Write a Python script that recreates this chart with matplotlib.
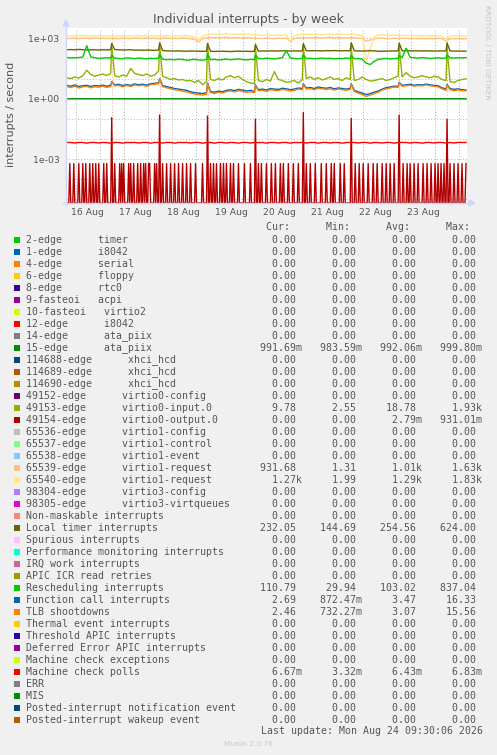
import numpy as np
import matplotlib
matplotlib.use('Agg')
import matplotlib.pyplot as plt
from matplotlib.lines import Line2D
from matplotlib.patches import Rectangle, Polygon
from matplotlib.ticker import FixedLocator, FixedFormatter, NullFormatter

W, H = 497, 755

# ------------------------------------------------------------------ data
# time axis: hours since 16 Aug 00:00
day_labels = ['16 Aug', '17 Aug', '18 Aug', '19 Aug', '20 Aug', '21 Aug', '22 Aug', '23 Aug']
day_label_hours = [12, 36, 60, 84, 108, 132, 156, 180]
midnight_hours = [24, 48, 72, 96, 120, 144, 168, 192]
grid_hours = np.arange(1.5, 202, 2.0)          # 2-hour samples (101)
spike_hours = [24, 48, 72, 96, 120, 144, 168, 192]

virtio1_req_65540 = [
    1350, 1300, 1420, 1280, 1380, 1330, 1250, 1400, 1320, 1360, 1290, 1340,
    1300, 1250, 1380, 1330, 1270, 1400, 1350, 1290, 1420, 1310, 1360, 1280,
    1320, 1380, 1300, 1350, 1280, 1400, 1340, 1260, 1150, 750, 1300, 1550,
    1600, 1650, 1580, 1620, 1700, 1560, 1640, 1600, 1550, 1620, 1580, 1500,
    1450, 1400, 1480, 1420, 1380, 1450, 1400, 1500, 700, 1350, 1500, 1550,
    1600, 1550, 1620, 1580, 1520, 1600, 1650, 1560, 1620, 1580, 1540, 1600,
    1550, 1500, 1400, 80, 300, 1200, 1450, 1500, 1420, 1380, 1450, 1400,
    1350, 1400, 1320, 1380, 1300, 1350, 1280, 1340, 1300, 1360, 1320, 750,
    1350, 1300, 1380, 1320, 1270]

virtio1_req_65539 = [
    1000, 980, 1050, 960, 1020, 1000, 940, 1060, 990, 1030, 970, 1010,
    990, 950, 1040, 1000, 960, 1060, 1010, 970, 1080, 990, 1020, 960,
    1000, 1050, 980, 1020, 960, 1060, 1000, 950, 880, 650, 980, 1050,
    1080, 1100, 1050, 1070, 1120, 1040, 1090, 1060, 1030, 1080, 1050, 1000,
    1000, 980, 1040, 990, 960, 1020, 980, 1050, 680, 970, 1040, 1060,
    1080, 1040, 1100, 1060, 1020, 1080, 1110, 1050, 1090, 1060, 1030, 1070,
    1050, 1020, 980, 700, 820, 950, 1000, 1030, 980, 960, 1010, 990,
    980, 1010, 960, 1000, 950, 990, 940, 980, 960, 1000, 970, 700,
    960, 940, 980, 950, 932]

local_timer = [
    270, 275, 268, 280, 272, 265, 270, 268, 262, 270, 266, 272,
    275, 268, 262, 266, 270, 258, 262, 255, 260, 258, 252, 262,
    245, 240, 235, 232, 238, 230, 228, 235, 232, 228, 226, 230,
    226, 222, 228, 230, 224, 220, 226, 232, 225, 228, 222, 226,
    230, 235, 232, 238, 236, 234, 240, 236, 232, 238, 234, 236,
    238, 242, 245, 240, 236, 244, 240, 246, 242, 238, 244, 240,
    240, 236, 232, 238, 242, 236, 230, 226, 232, 236, 234, 238,
    240, 244, 238, 236, 240, 234, 238, 236, 232, 236, 234, 238,
    236, 232, 234, 230, 232]
local_timer_spikes = [560, 600, 560, 500, 540, 600, 580, 590]

rescheduling = [
    112, 105, 108, 110, 118, 430, 120, 108, 100, 104, 110, 106,
    104, 100, 96, 108, 102, 98, 105, 100, 95, 102, 98, 104,
    92, 86, 90, 84, 92, 88, 82, 86, 90, 84, 82, 88,
    86, 90, 84, 88, 92, 86, 90, 95, 88, 84, 90, 87,
    100, 96, 104, 98, 94, 102, 110, 240, 105, 100, 96, 102,
    98, 102, 96, 100, 104, 98, 102, 96, 100, 98, 104, 100,
    96, 100, 92, 58, 50, 72, 90, 96, 100, 94, 98, 102,
    110, 320, 115, 108, 104, 110, 106, 100, 104, 108, 102, 106,
    108, 104, 110, 106, 110]
rescheduling_spikes = [140, 160, 170, 150, 150, 140, 140, 150]

virtio0_input = [
    11, 10, 12, 10.5, 14, 26, 16, 13, 15, 17, 14, 18,
    14, 12, 15, 13, 32, 18, 16, 14, 17, 13, 15, 24,
    13, 11, 9, 10, 8.5, 9, 7.6, 8, 6.5, 8, 5, 7,
    9, 8, 10, 8.5, 12, 14, 11, 13, 9, 7, 6, 5.5,
    8, 7, 9, 7.5, 22, 9, 8, 6.5, 7, 8, 6, 9,
    10, 12, 9, 11, 8.5, 10, 12, 9, 10, 8, 11, 9,
    8, 9, 12, 9, 7.5, 8, 9, 10, 8, 9, 11, 13,
    12, 20, 13, 11, 12, 14, 12, 11, 13, 12, 9, 8,
    7, 6.5, 8, 9, 9.8]
virtio0_input_spikes = [450, 480, 420, 400, 450, 380, 420, 400]

function_call = [
    4.5, 4.2, 4.8, 4.0, 4.4, 4.6, 4.1, 4.5, 4.3, 4.7, 4.2, 4.6,
    4.8, 5.2, 4.5, 5.0, 4.6, 5.4, 4.9, 5.3, 4.7, 5.5, 5.8, 6.2,
    4.5, 4.0, 3.6, 3.2, 3.0, 2.8, 2.6, 2.2, 2.0, 1.9, 1.8, 2.0,
    2.3, 2.1, 2.4, 2.2, 2.6, 2.8, 2.5, 2.9, 2.7, 2.4, 2.6, 2.3,
    2.8, 3.0, 2.7, 3.2, 3.0, 2.9, 3.3, 3.1, 2.8, 3.0, 3.4, 3.2,
    3.4, 3.6, 3.2, 3.8, 3.5, 3.3, 3.6, 3.1, 3.4, 3.2, 3.0, 3.3,
    2.6, 2.2, 1.9, 1.6, 1.8, 2.1, 2.4, 3.0, 3.5, 3.8, 4.2, 4.0,
    4.6, 4.9, 5.2, 4.7, 5.0, 4.8, 5.3, 4.9, 4.6, 4.4, 3.5, 3.0,
    3.2, 2.9, 3.1, 2.8, 2.69]
function_call_spikes = [7, 10, 6, 4.8, 5.5, 5.5, 6.5, 5]

tlb_shootdowns = [
    4.0, 3.6, 4.2, 3.4, 3.9, 4.1, 3.5, 3.9, 3.7, 4.2, 3.6, 4.0,
    4.3, 4.6, 3.9, 4.5, 4.0, 4.8, 4.4, 4.7, 4.1, 5.0, 5.2, 5.6,
    4.0, 3.5, 3.1, 2.8, 2.6, 2.4, 2.2, 1.9, 1.7, 1.6, 1.5, 1.7,
    2.0, 1.8, 2.1, 1.9, 2.3, 2.4, 2.2, 2.5, 2.3, 2.1, 2.2, 2.0,
    2.5, 2.6, 2.3, 2.8, 2.6, 2.5, 2.9, 2.7, 2.4, 2.6, 3.0, 2.8,
    3.0, 3.2, 2.8, 3.3, 3.1, 2.9, 3.1, 2.7, 3.0, 2.8, 2.6, 2.9,
    2.3, 1.9, 1.6, 1.3, 1.5, 1.8, 2.1, 2.7, 3.1, 3.4, 3.8, 3.6,
    4.1, 4.4, 4.7, 4.2, 4.5, 4.3, 4.8, 4.4, 4.1, 3.9, 3.1, 2.6,
    2.8, 2.5, 2.7, 2.5, 2.46]
tlb_shootdowns_spikes = [6.5, 9.5, 5.5, 4.4, 5.0, 5.0, 6.0, 4.6]

mce_polls_milli = [
    6.7, 6.7, 6.3, 6.7, 6.7, 6.2, 6.7, 6.7, 6.3, 6.7, 6.6, 6.2,
    6.7, 6.7, 6.2, 6.7, 6.6, 6.7, 6.3, 6.7, 6.7, 6.2, 6.7, 6.7,
    6.3, 6.7, 6.7, 6.2, 6.7, 6.6, 6.7, 6.3, 6.7, 6.7, 6.2, 6.7,
    6.7, 6.2, 6.7, 6.7, 6.3, 6.7, 6.6, 6.2, 6.7, 6.7, 6.3, 6.7,
    6.6, 6.7, 6.2, 6.7, 6.7, 6.3, 6.7, 6.7, 6.2, 6.7, 6.6, 6.7,
    6.3, 6.7, 6.7, 6.2, 6.7, 6.7, 6.3, 6.7, 6.6, 6.2, 6.7, 6.7,
    6.7, 6.3, 6.7, 6.7, 6.2, 6.7, 6.6, 6.3, 6.7, 6.7, 6.2, 6.7,
    6.7, 6.7, 6.3, 6.7, 6.6, 6.2, 6.7, 6.7, 6.3, 6.7, 6.7, 6.2,
    6.7, 6.3, 6.7, 6.7, 6.67]

ata15_hours = [1.5, 60, 120, 201.5]
ata15 = [0.992, 0.991, 0.992, 0.9917]

# virtio0-output: half-hourly samples, zero except these pulses
virtio0_out_pulse_hours = [
    3.0, 5.0, 7.5, 9.5, 11.0, 13.0, 14.5, 16.0, 17.5, 20.0, 21.5,
    25.5, 28.0, 29.0, 30.0, 32.5, 33.5, 35.0, 37.0, 38.5, 40.0, 41.0, 42.5, 43.0, 45.5, 46.5,
    49.5, 51.5, 53.5, 55.5, 57.5, 59.5, 61.5, 63.5, 66.0, 69.5,
    73.5, 75.0, 76.5, 78.5, 80.0, 81.5, 83.5, 85.0, 87.5, 90.5, 93.5,
    97.5, 99.0, 101.5, 104.0, 106.0, 108.5, 110.0, 112.5, 115.0, 117.5,
    121.5, 123.5, 126.0, 129.0, 131.5, 134.0, 135.5, 138.5, 140.5,
    146.0, 148.0, 150.0, 152.5, 155.0, 157.0, 159.5, 161.5, 163.5, 165.5,
    170.0, 172.0, 173.5, 175.5, 177.5, 180.0, 182.0, 184.0, 186.0, 187.5, 189.0, 190.5,
    193.5, 195.5, 197.5, 199.5, 201.5]
virtio0_out_pulse_level = 6.0e-4
virtio0_out_spikes = [0.114, 0.155, 0.138, 0.095, 0.21, 0.106, 0.155, 0.095]

# legend
legend_labels = [
    '2-edge      timer', '1-edge      i8042', '4-edge      serial', '6-edge      floppy',
    '8-edge      rtc0', '9-fasteoi   acpi', '10-fasteoi   virtio2', '12-edge      i8042',
    '14-edge      ata_piix', '15-edge      ata_piix', '114688-edge      xhci_hcd',
    '114689-edge      xhci_hcd', '114690-edge      xhci_hcd', '49152-edge      virtio0-config',
    '49153-edge      virtio0-input.0', '49154-edge      virtio0-output.0',
    '65536-edge      virtio1-config', '65537-edge      virtio1-control',
    '65538-edge      virtio1-event', '65539-edge      virtio1-request',
    '65540-edge      virtio1-request', '98304-edge      virtio3-config',
    '98305-edge      virtio3-virtqueues', 'Non-maskable interrupts', 'Local timer interrupts',
    'Spurious interrupts', 'Performance monitoring interrupts', 'IRQ work interrupts',
    'APIC ICR read retries', 'Rescheduling interrupts', 'Function call interrupts',
    'TLB shootdowns', 'Thermal event interrupts', 'Threshold APIC interrupts',
    'Deferred Error APIC interrupts', 'Machine check exceptions', 'Machine check polls',
    'ERR', 'MIS', 'Posted-interrupt notification event', 'Posted-interrupt wakeup event']
legend_colors = [
    '#00CC00', '#0066B3', '#FF8000', '#FFCC00', '#330099', '#990099', '#CCFF00', '#FF0000',
    '#808080', '#008F00', '#00487D', '#B35A00', '#B38F00', '#6B006B', '#8FB300', '#B30000',
    '#BEBEBE', '#80FF80', '#80C9FF', '#FFC080', '#FFE680', '#AA80FF', '#EE00CC', '#FF8080',
    '#666600', '#FFBFFF', '#00FFCC', '#CC6699', '#999900', '#00CC00', '#0066B3', '#FF8000',
    '#FFCC00', '#330099', '#990099', '#CCFF00', '#FF0000', '#808080', '#008F00', '#00487D',
    '#B35A00']
cur_vals = ['0.00'] * 9 + ['991.69m'] + ['0.00'] * 4 + ['9.78', '0.00'] + ['0.00'] * 3 + \
    ['931.68', '1.27k'] + ['0.00'] * 3 + ['232.05'] + ['0.00'] * 4 + ['110.79', '2.69', '2.46'] + \
    ['0.00'] * 4 + ['6.67m'] + ['0.00'] * 4
min_vals = ['0.00'] * 9 + ['983.59m'] + ['0.00'] * 4 + ['2.55', '0.00'] + ['0.00'] * 3 + \
    ['1.31', '1.99'] + ['0.00'] * 3 + ['144.69'] + ['0.00'] * 4 + ['29.94', '872.47m', '732.27m'] + \
    ['0.00'] * 4 + ['3.32m'] + ['0.00'] * 4
avg_vals = ['0.00'] * 9 + ['992.06m'] + ['0.00'] * 4 + ['18.78', '2.79m'] + ['0.00'] * 3 + \
    ['1.01k', '1.29k'] + ['0.00'] * 3 + ['254.56'] + ['0.00'] * 4 + ['103.02', '3.47', '3.07'] + \
    ['0.00'] * 4 + ['6.43m'] + ['0.00'] * 4
max_vals = ['0.00'] * 9 + ['999.80m'] + ['0.00'] * 4 + ['1.93k', '931.01m'] + ['0.00'] * 3 + \
    ['1.63k', '1.83k'] + ['0.00'] * 3 + ['624.00'] + ['0.00'] * 4 + ['837.04', '16.33', '15.56'] + \
    ['0.00'] * 4 + ['6.83m'] + ['0.00'] * 4

# ------------------------------------------------------------------ figure
fig = plt.figure(figsize=(W / 100, H / 100), dpi=100)
fig.patch.set_facecolor('#F0F0F0')

ax_l, ax_r, ax_t, ax_b = 66, 467, 27.7, 203
ax = fig.add_axes([ax_l / W, 1 - ax_b / H, (ax_r - ax_l) / W, (ax_b - ax_t) / H])
ax.set_facecolor('white')
ax.set_yscale('log')
YMIN, YMAX = 6.6e-6, 3365
ax.set_ylim(YMIN, YMAX)
ax.set_xlim(1.1, 202.0)
for s in ax.spines.values():
    s.set_visible(False)

GRID_C = '#B4B4B4'
MGRID_C = '#EE9A9A'
dots = (0, (1, 2))

# y grid
ax.yaxis.set_major_locator(FixedLocator([1e-3, 1, 1e3]))
ax.yaxis.set_major_formatter(FixedFormatter(['1e-03', '1e+00', '1e+03']))
ax.yaxis.set_minor_locator(FixedLocator([1e-5, 1e-4, 1e-2, 1e-1, 10, 100]))
ax.yaxis.set_minor_formatter(NullFormatter())
ax.grid(True, axis='y', which='minor', color=GRID_C, lw=0.7, linestyle=dots)
ax.grid(True, axis='y', which='major', color=MGRID_C, lw=0.7, linestyle=dots)

# x grid
ax.set_xticks(day_label_hours)
ax.set_xticklabels(day_labels)
ax.xaxis.set_minor_locator(FixedLocator([h for h in range(6, 202, 6) if h % 24]))
ax.grid(True, axis='x', which='minor', color=GRID_C, lw=0.7, linestyle=dots)
for h in midnight_hours:
    ax.axvline(h, color=MGRID_C, lw=0.7, linestyle=dots, zorder=0.5)
ax.set_axisbelow(True)

ax.tick_params(axis='both', which='both', length=0, labelsize=6.7, colors='#555555')
ax.tick_params(axis='y', pad=4.8)
ax.tick_params(axis='x', pad=3.6)


def merged(base, spikes):
    t = np.concatenate([grid_hours, np.asarray(spike_hours, float)])
    v = np.concatenate([np.asarray(base, float), np.asarray(spikes, float)])
    o = np.argsort(t, kind='stable')
    return t[o], v[o]


LW = 1.0
ax.plot(ata15_hours, ata15, color='#008F00', lw=LW)
t, v = merged(virtio0_input, virtio0_input_spikes)
ax.plot(t, v, color='#8FB300', lw=LW)

half_hours = np.arange(1.5, 202, 0.5)
out_vals = np.zeros_like(half_hours)
for h in virtio0_out_pulse_hours:
    out_vals[int(round((h - 1.5) * 2))] = virtio0_out_pulse_level
for h, sv in zip(spike_hours, virtio0_out_spikes):
    out_vals[int(round((h - 1.5) * 2))] = sv
ax.plot(half_hours, np.where(out_vals > 0, out_vals, YMIN), color='#B30000', lw=LW)

ax.plot(grid_hours, virtio1_req_65539, color='#FFC080', lw=LW)
ax.plot(grid_hours, virtio1_req_65540, color='#FFE680', lw=LW)
t, v = merged(local_timer, local_timer_spikes)
ax.plot(t, v, color='#666600', lw=LW)
t, v = merged(rescheduling, rescheduling_spikes)
ax.plot(t, v, color='#00CC00', lw=LW)
t, v = merged(function_call, function_call_spikes)
ax.plot(t, v, color='#0066B3', lw=LW)
t, v = merged(tlb_shootdowns, tlb_shootdowns_spikes)
ax.plot(t, v, color='#FF8000', lw=LW)
ax.plot(grid_hours, np.asarray(mce_polls_milli) * 1e-3, color='#FF0000', lw=LW)

# axis arrows
AX_C = '#CFD6F8'


def fx(x):
    return x / W


def fy(y):
    return 1 - y / H


fig.add_artist(Line2D([fx(ax_l), fx(ax_l)], [fy(ax_b + 2), fy(24)], color=AX_C, lw=1.0,
                      transform=fig.transFigure))
fig.add_artist(Line2D([fx(ax_l - 3), fx(470)], [fy(ax_b), fy(ax_b)], color=AX_C, lw=1.0,
                      transform=fig.transFigure))
fig.add_artist(Polygon([[fx(ax_l - 3), fy(26)], [fx(ax_l + 3), fy(26)], [fx(ax_l), fy(20)]],
                       closed=True, color=AX_C, transform=fig.transFigure))
fig.add_artist(Polygon([[fx(469), fy(ax_b - 3)], [fx(469), fy(ax_b + 3)], [fx(475), fy(ax_b)]],
                       closed=True, color=AX_C, transform=fig.transFigure))

# titles
TXT = '#555555'
fig.text(fx(248.3), fy(19), 'Individual interrupts - by week', ha='center', va='center',
         fontsize=9, color=TXT)
fig.text(fx(11), fy(114), 'interrupts / second', rotation=90, ha='center', va='center',
         fontsize=8, color=TXT)
fig.text(fx(487), fy(52.5), 'RRDTOOL / TOBI OETIKER', rotation=270, ha='center', va='center',
         fontsize=5.3, color='#C4C4C4')

# legend
MONO = 'DejaVu Sans Mono'
MFS = 7.14


def fmt(s):
    if s[-1].isalpha():
        return s[:-1].rjust(9) + s[-1]
    return s.rjust(9) + ' '


header = ' ' * 40 + 'Cur:' + ' ' * 6 + 'Min:' + ' ' * 6 + 'Avg:' + ' ' * 6 + 'Max:'
fig.text(fx(26.3), fy(227.3), header, family=MONO, fontsize=MFS, color=TXT, va='center', ha='left')
for i, (lab, col, c, mn, av, mx) in enumerate(zip(legend_labels, legend_colors, cur_vals,
                                                   min_vals, avg_vals, max_vals)):
    yc = 240 + 12 * i
    fig.add_artist(Rectangle((fx(14), fy(yc + 3)), 6 / W, 6 / H, facecolor=col, edgecolor='none',
                             transform=fig.transFigure))
    line = lab.ljust(36) + fmt(c) + fmt(mn) + fmt(av) + fmt(mx)
    fig.text(fx(26.3), fy(yc), line, family=MONO, fontsize=MFS, color=TXT, va='center', ha='left')

fig.text(fx(482.7), fy(731.5), 'Last update: Mon Aug 24 09:30:06 2026', family=MONO,
         fontsize=MFS, color=TXT, va='center', ha='right')
fig.text(fx(248), fy(744), 'Munin 2.0.76', fontsize=5.4, color='#C8C8C8', ha='center', va='center')

fig.savefig('out.png', dpi=100, facecolor=fig.get_facecolor())
